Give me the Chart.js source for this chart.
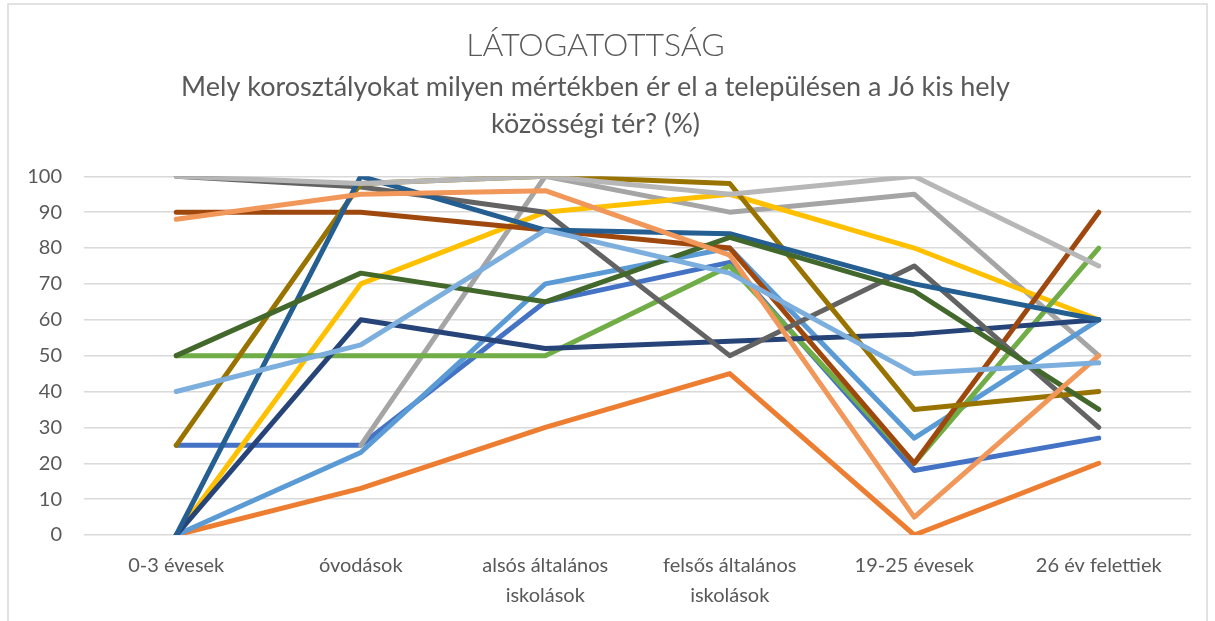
<!DOCTYPE html>
<html>
<head>
<meta charset="utf-8">
<script src="https://cdn.jsdelivr.net/npm/chart.js@4"></script>
<style>
  body { margin: 0; background: #ffffff; }
  #wrap { width: 1215px; height: 621px; }
</style>
</head>
<body>
<div id="wrap"><canvas id="latogatottsagChart" width="1215" height="621"></canvas></div>
<script>
// age groups on the x axis
const categories = [
    "0-3 évesek",
    "óvodások",
    ["alsós általános", "iskolások"],
    ["felsős általános", "iskolások"],
    "19-25 évesek",
    "26 év felettiek"
];

// one line per answer (%)
const valasz01 = [25, 25, 65, 76, 18, 27];
const valasz02 = [0, 13, 30, 45, 0, 20];
const valasz03 = [null, 25, 100, 90, 95, 50];
const valasz04 = [0, 70, 90, 95, 80, 60];
const valasz05 = [0, 23, 70, 80, 27, 60];
const valasz06 = [50, 50, 50, 75, 20, 80];
const valasz07 = [0, 60, 52, 54, 56, 60];
const valasz08 = [90, 90, 85, 80, 20, 90];
const valasz09 = [100, 97, 90, 50, 75, 30];
const valasz10 = [25, 98, 100, 98, 35, 40];
const valasz11 = [0, 100, 85, 84, 70, 60];
const valasz12 = [50, 73, 65, 83, 68, 35];
const valasz13 = [88, 95, 96, 78, 5, 50];
const valasz14 = [100, 98, 100, 95, 100, 75];
const valasz15 = [40, 53, 85, 73, 45, 48];

const yTicks = [0, 10, 20, 30, 40, 50, 60, 70, 80, 90, 100];

const seriesList = [
    { label: "1", data: valasz01, color: "#4472C4" },
    { label: "2", data: valasz02, color: "#ED7D31" },
    { label: "3", data: valasz03, color: "#A5A5A5" },
    { label: "4", data: valasz04, color: "#FFC000" },
    { label: "5", data: valasz05, color: "#5B9BD5" },
    { label: "6", data: valasz06, color: "#70AD47" },
    { label: "7", data: valasz07, color: "#264478" },
    { label: "8", data: valasz08, color: "#9E480E" },
    { label: "9", data: valasz09, color: "#636363" },
    { label: "10", data: valasz10, color: "#997300" },
    { label: "11", data: valasz11, color: "#255E91" },
    { label: "12", data: valasz12, color: "#43682B" },
    { label: "13", data: valasz13, color: "#F1975A" },
    { label: "14", data: valasz14, color: "#B7B7B7" },
    { label: "15", data: valasz15, color: "#7CAFDD" }
];

const textColor = "#595959";
const gridColor = "#D9D9D9";

// thin frame around the whole chart, like the office chart box
const framePlugin = {
    id: "frame",
    beforeDraw(chart) {
        const ctx = chart.ctx;
        ctx.save();
        ctx.fillStyle = "#ffffff";
        ctx.fillRect(0, 0, chart.width, chart.height);
        ctx.strokeStyle = gridColor;
        ctx.lineWidth = 1.5;
        ctx.strokeRect(8, 4, 1199, 640);
        ctx.restore();
    }
};

const ctx = document.getElementById("latogatottsagChart").getContext("2d");
new Chart(ctx, {
    type: "line",
    data: {
        labels: categories,
        datasets: seriesList.map((s, i) => ({
            label: s.label,
            data: s.data,
            borderColor: s.color,
            backgroundColor: s.color,
            borderWidth: 5,
            borderCapStyle: "round",
            borderJoinStyle: "round",
            pointRadius: 0,
            tension: 0,
            fill: false,
            order: -i
        }))
    },
    options: {
        responsive: false,
        animation: false,
        layout: { padding: { left: 0, right: 24, top: 0, bottom: 0 } },
        plugins: {
            legend: { display: false },
            tooltip: { enabled: false },
            title: {
                display: true,
                text: "LÁTOGATOTTSÁG",
                color: textColor,
                font: { family: "Lato", size: 32, weight: "300", lineHeight: 1.2 },
                padding: { top: 26, bottom: 5 }
            },
            subtitle: {
                display: true,
                text: ["Mely korosztályokat milyen mértékben ér el a településen a Jó kis hely", "közösségi tér? (%)"],
                color: textColor,
                font: { family: "Lato", size: 27, weight: "normal", lineHeight: 1.35 },
                padding: { top: 0, bottom: 34 }
            }
        },
        scales: {
            x: {
                offset: true,
                grid: { display: false, drawTicks: false },
                border: { display: false },
                ticks: {
                    color: textColor,
                    font: { family: "Lato", size: 20, lineHeight: 1.5 },
                    padding: 16,
                    maxRotation: 0,
                    autoSkip: false
                },
                afterFit(scale) { scale.height = 86; }
            },
            y: {
                min: 0,
                max: 100,
                afterBuildTicks(scale) { scale.ticks = yTicks.map(v => ({ value: v })); },
                grid: { color: gridColor, lineWidth: 1.5, drawTicks: false },
                border: { display: false },
                ticks: {
                    color: textColor,
                    font: { family: "Lato", size: 20 },
                    padding: 22
                },
                afterFit(scale) { scale.width = 84; }
            }
        }
    },
    plugins: [framePlugin]
});
</script>
</body>
</html>
